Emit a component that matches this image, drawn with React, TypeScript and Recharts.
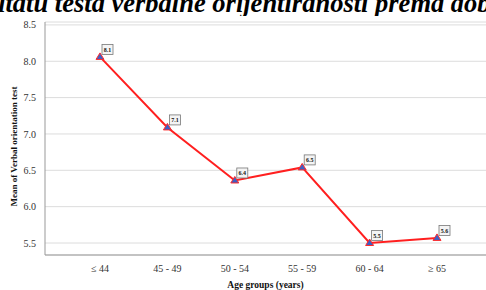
import { LineChart, Line, XAxis, YAxis, CartesianGrid } from 'recharts'

const ageGroups = ['≤ 44', '45 - 49', '50 - 54', '55 - 59', '60 - 64', '≥ 65']
const meanScores = [8.06, 7.09, 6.36, 6.54, 5.5, 5.57]
const yTicks = [5.5, 6.0, 6.5, 7.0, 7.5, 8.0, 8.5]

const data = ageGroups.map((g, i) => ({ group: g, mean: meanScores[i] }))

const serif = '"Liberation Serif", "Times New Roman", serif'

function Triangle(props: any) {
  const { cx, cy } = props
  if (cx == null || cy == null) return null
  return (
    <polygon
      points={`${cx},${cy - 4} ${cx - 4},${cy + 2.5} ${cx + 4},${cy + 2.5}`}
      fill="#3d5fc4"
      stroke="#ff2a2a"
      strokeWidth={1}
    />
  )
}

function ValueBox(props: any) {
  const { x, y, value } = props
  if (x == null || y == null) return null
  return (
    <g>
      <rect x={x + 2} y={y - 12.5} width={11} height={10} fill="#f4f4f4" stroke="#777" strokeWidth={0.8} />
      <text x={x + 7.5} y={y - 5.3} textAnchor="middle" fontSize={6} fontWeight="bold" fontFamily={serif} fill="#111">
        {Number(value).toFixed(1)}
      </text>
    </g>
  )
}

function YLabel(props: any) {
  const vb = props.viewBox || {}
  const cy = (vb.y ?? 22) + (vb.height ?? 233) / 2 + 8
  return (
    <text
      x={17}
      y={cy}
      transform={`rotate(-90, 17, ${cy})`}
      textAnchor="middle"
      fontSize={9}
      fontWeight="bold"
      fontFamily={serif}
      fill="#111"
    >
      Mean of Verbal orientation test
    </text>
  )
}

export default function App() {
  return (
    <div style={{ position: 'fixed', left: 0, top: 0, width: 486, height: 290, background: '#fff', overflow: 'hidden' }}>
      <div style={{ position: 'absolute', left: 0, top: 0, width: 486, height: 16, overflow: 'hidden' }}>
        <span
          style={{
            position: 'absolute', left: -49, top: -10, whiteSpace: 'nowrap',
            fontFamily: serif, fontSize: 26.5, lineHeight: '26.5px', fontWeight: 'bold', fontStyle: 'italic', color: '#000',
          }}
        >
          rezultatu testa verbalne orijentiranosti prema dobi
        </span>
      </div>
      <LineChart width={486} height={290} data={data} margin={{ top: 22, right: 0, left: 0, bottom: 0 }}>
        <CartesianGrid vertical={false} stroke="#dcdcdc" />
        <XAxis
          dataKey="group"
          padding={{ left: 55, right: 49 }}
          tickLine={false}
          axisLine={{ stroke: '#999' }}
          tick={{ fontSize: 10, fontFamily: serif, fill: '#333' }}
          tickMargin={4}
          height={35}
          label={{ value: 'Age groups (years)', position: 'insideBottom', offset: 2, fontSize: 9.5, fontWeight: 'bold', fontFamily: serif, fill: '#111' }}
        />
        <YAxis
          domain={[5.335, 8.54]}
          ticks={yTicks}
          tickFormatter={(v: number) => v.toFixed(1)}
          width={45}
          tickLine={false}
          axisLine={{ stroke: '#999' }}
          tick={{ fontSize: 10, fontFamily: serif, fill: '#333' }}
          tickMargin={3}
          label={<YLabel />}
        />
        <Line
          type="linear"
          dataKey="mean"
          stroke="#ff1f1f"
          strokeWidth={2}
          dot={<Triangle />}
          activeDot={false}
          label={<ValueBox />}
          isAnimationActive={false}
        />
      </LineChart>
    </div>
  )
}
